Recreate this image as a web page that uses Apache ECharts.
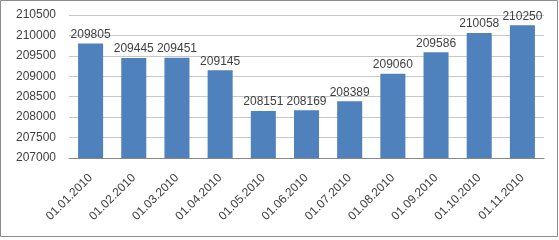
<!DOCTYPE html>
<html><head><meta charset="utf-8">
<script src="https://cdn.jsdelivr.net/npm/echarts@6/dist/echarts.min.js"></script>
<style>html,body{margin:0;padding:0;background:#fff}#c{width:559px;height:240px}</style>
</head><body><div id="c"></div>
<script>
const categories = ['01.01.2010','01.02.2010','01.03.2010','01.04.2010','01.05.2010','01.06.2010','01.07.2010','01.08.2010','01.09.2010','01.10.2010','01.11.2010'];
const values = [209805,209445,209451,209145,208151,208169,208389,209060,209586,210058,210250];
const yMin = 207000, yMax = 210500, yStep = 500;
const chart = echarts.init(document.getElementById('c'));
chart.setOption({
  animation: false,
  graphic: [{type:'rect', shape:{x:0.5,y:0.5,width:557,height:236}, style:{fill:'none', stroke:'#8c8c8c', lineWidth:1}}],
  grid: {left:69, right:15, top:15, bottom:82},
  xAxis: {type:'category', data:categories,
    axisLine:{lineStyle:{color:'#878787'}}, axisTick:{show:false},
    axisLabel:{rotate:45, color:'#404040', fontFamily:'Liberation Sans', fontSize:12, interval:0, margin:18}},
  yAxis: {type:'value', min:yMin, max:yMax, interval:yStep,
    axisLine:{show:false}, axisTick:{show:false},
    splitLine:{lineStyle:{color:'#c8c8c8'}},
    axisLabel:{color:'#404040', fontFamily:'Liberation Sans', fontSize:12, margin:13, formatter: v => String(v)}},
  series: [{type:'bar', data:values, barWidth:'58%', itemStyle:{color:'#4f81bd'},
    label:{show:true, position:'top', color:'#404040', fontFamily:'Liberation Sans', fontSize:12, distance:3}}]
});
</script></body></html>
